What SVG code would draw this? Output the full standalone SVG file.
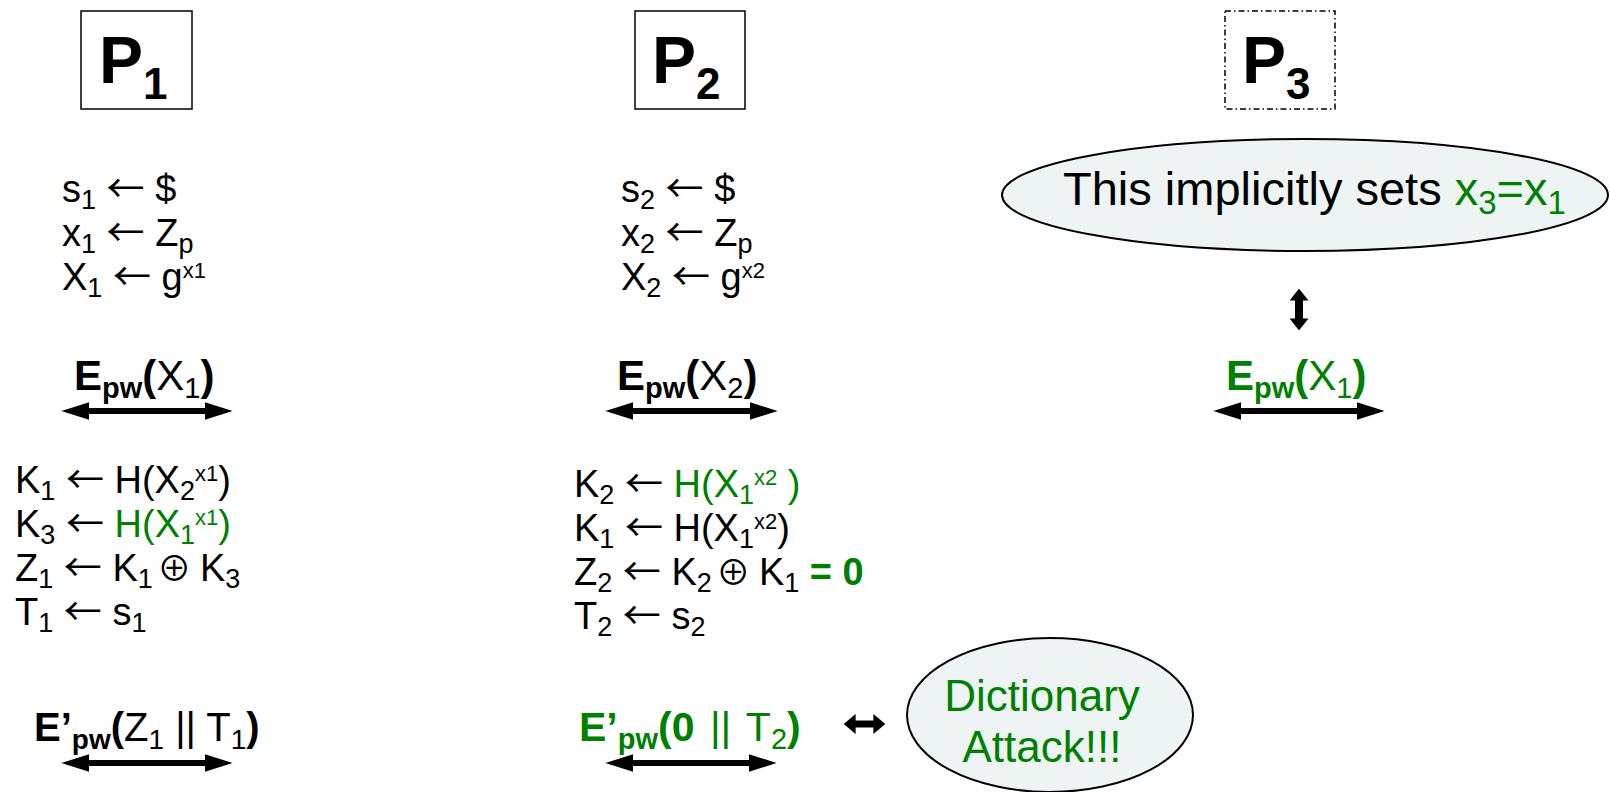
<svg xmlns="http://www.w3.org/2000/svg" width="1610" height="792" viewBox="0 0 1610 792">
<style>
text{font-family:"Liberation Sans",Arial,"DejaVu Sans",sans-serif;font-size:38px;fill:#000}
.g{fill:#008000}
.b{font-weight:bold}
.sub{font-size:27px}
.sup{font-size:22px}
.arr{font-family:"Noto Sans CJK JP","DejaVu Sans",sans-serif;font-size:38px}
.op{font-family:"Noto Sans CJK JP","DejaVu Sans",sans-serif;font-size:34px}
.lbl{font-size:42px}
.lbl .sub{font-size:29px}
.lbl2{font-size:40px}
.lbl2 .sub{font-size:28px}
.lbl3{font-size:41px}
.lbl3 .sub{font-size:29px}
.pl{font-size:66px;font-weight:bold}
.psub{font-size:44px;font-weight:bold}
.box{fill:#fff;stroke:#000;stroke-width:1.5}
.bubble{fill:#eef4f4;stroke:#000;stroke-width:2}
.conn line{stroke:#000}
</style>
<defs>
<marker id="ah" viewBox="0 0 10 10" preserveAspectRatio="none" refX="0.5" refY="5" markerWidth="28" markerHeight="18" markerUnits="userSpaceOnUse" orient="auto-start-reverse"><path d="M0,0L10,5L0,10z" fill="#000"/></marker>
<marker id="ahs" viewBox="0 0 10 10" preserveAspectRatio="none" refX="0.5" refY="5" markerWidth="12" markerHeight="20" markerUnits="userSpaceOnUse" orient="auto-start-reverse"><path d="M0,0L10,5L0,10z" fill="#000"/></marker>
<marker id="ahv" viewBox="0 0 10 10" preserveAspectRatio="none" refX="0.5" refY="5" markerWidth="12" markerHeight="19" markerUnits="userSpaceOnUse" orient="auto-start-reverse"><path d="M0,0L10,5L0,10z" fill="#000"/></marker>
</defs>
<rect width="1610" height="792" fill="#fff"/>

<g id="P1">
<rect class="box" x="81" y="11" width="111" height="98"/>
<text x="99" y="83" class="pl">P<tspan class="psub" dy="16">1</tspan></text>
</g>
<g id="P2">
<rect class="box" x="635" y="11" width="110" height="98"/>
<text x="652" y="83" class="pl">P<tspan class="psub" dy="16">2</tspan></text>
</g>
<g id="P3">
<rect class="box" x="1225" y="11" width="110" height="98" stroke-dasharray="6,3,1.5,3"/>
<text x="1242" y="83" class="pl">P<tspan class="psub" dy="16">3</tspan></text>
</g>

<g id="P1-init">
<text x="62" y="202">s<tspan class="sub" dy="7">1</tspan><tspan dy="-7"> </tspan><tspan class="arr">←</tspan> $</text>
<text x="62" y="246">x<tspan class="sub" dy="7">1</tspan><tspan dy="-7"> </tspan><tspan class="arr">←</tspan> Z<tspan class="sub" dy="7">p</tspan></text>
<text x="62" y="290">X<tspan class="sub" dy="7">1</tspan><tspan dy="-7"> </tspan><tspan class="arr">←</tspan> g<tspan class="sup" dy="-12">x1</tspan></text>
</g>
<g id="P2-init">
<text x="621" y="202">s<tspan class="sub" dy="7">2</tspan><tspan dy="-7"> </tspan><tspan class="arr">←</tspan> $</text>
<text x="621" y="246">x<tspan class="sub" dy="7">2</tspan><tspan dy="-7"> </tspan><tspan class="arr">←</tspan> Z<tspan class="sub" dy="7">p</tspan></text>
<text x="621" y="290">X<tspan class="sub" dy="7">2</tspan><tspan dy="-7"> </tspan><tspan class="arr">←</tspan> g<tspan class="sup" dy="-12">x2</tspan></text>
</g>

<g id="msg1">
<text x="74" y="390" class="lbl"><tspan class="b">E</tspan><tspan class="sub b" dy="8">pw</tspan><tspan class="b" dy="-8">(</tspan>X<tspan class="sub" dy="8">1</tspan><tspan class="b" dy="-8">)</tspan></text>
</g>
<g id="msg2">
<text x="617" y="390" class="lbl"><tspan class="b">E</tspan><tspan class="sub b" dy="8">pw</tspan><tspan class="b" dy="-8">(</tspan>X<tspan class="sub" dy="8">2</tspan><tspan class="b" dy="-8">)</tspan></text>
</g>
<g id="msg3">
<text x="1226" y="390" class="lbl g"><tspan class="b">E</tspan><tspan class="sub b" dy="8">pw</tspan><tspan class="b" dy="-8">(</tspan>X<tspan class="sub" dy="8">1</tspan><tspan class="b" dy="-8">)</tspan></text>
</g>

<g id="P1-keys">
<text x="15" y="493">K<tspan class="sub" dy="7">1</tspan><tspan dy="-7"> </tspan><tspan class="arr">←</tspan> H(X<tspan class="sub" dy="7">2</tspan><tspan class="sup" dy="-19">x1</tspan><tspan dy="12">)</tspan></text>
<text x="15" y="537">K<tspan class="sub" dy="7">3</tspan><tspan dy="-7"> </tspan><tspan class="arr">←</tspan> <tspan class="g">H(X</tspan><tspan class="sub g" dy="7">1</tspan><tspan class="sup g" dy="-19">x1</tspan><tspan class="g" dy="12">)</tspan></text>
<text x="15" y="581">Z<tspan class="sub" dy="7">1</tspan><tspan dy="-7"> </tspan><tspan class="arr">←</tspan> K<tspan class="sub" dy="7">1</tspan><tspan dy="-7"> </tspan><tspan class="op" dx="-6">⊕</tspan><tspan dx="-2"> K</tspan><tspan class="sub" dy="7">3</tspan></text>
<text x="15" y="625">T<tspan class="sub" dy="7">1</tspan><tspan dy="-7"> </tspan><tspan class="arr">←</tspan> s<tspan class="sub" dy="7">1</tspan></text>
</g>
<g id="P2-keys">
<text x="574" y="497">K<tspan class="sub" dy="7">2</tspan><tspan dy="-7"> </tspan><tspan class="arr">←</tspan> <tspan class="g">H(X</tspan><tspan class="sub g" dy="7">1</tspan><tspan class="sup g" dy="-19">x2</tspan><tspan class="g" dy="12"> )</tspan></text>
<text x="574" y="541">K<tspan class="sub" dy="7">1</tspan><tspan dy="-7"> </tspan><tspan class="arr">←</tspan> H(X<tspan class="sub" dy="7">1</tspan><tspan class="sup" dy="-19">x2</tspan><tspan dy="12">)</tspan></text>
<text x="574" y="585">Z<tspan class="sub" dy="7">2</tspan><tspan dy="-7"> </tspan><tspan class="arr">←</tspan> K<tspan class="sub" dy="7">2</tspan><tspan dy="-7"> </tspan><tspan class="op" dx="-6">⊕</tspan><tspan dx="-2"> K</tspan><tspan class="sub" dy="7">1</tspan><tspan class="g b" dy="-7"> = 0</tspan></text>
<text x="574" y="629">T<tspan class="sub" dy="7">2</tspan><tspan dy="-7"> </tspan><tspan class="arr">←</tspan> s<tspan class="sub" dy="7">2</tspan></text>
</g>

<g id="msg4">
<text x="34" y="741" class="lbl2"><tspan class="b">E’</tspan><tspan class="sub b" dy="8">pw</tspan><tspan class="b" dy="-8">(</tspan>Z<tspan class="sub" dy="8">1</tspan><tspan dy="-8"> || T</tspan><tspan class="sub" dy="8">1</tspan><tspan class="b" dy="-8">)</tspan></text>
</g>
<g id="msg5">
<text x="579" y="741" class="lbl3 g"><tspan class="b">E’</tspan><tspan class="sub b" dy="8">pw</tspan><tspan class="b" dy="-8">(0</tspan><tspan dx="4"> ||</tspan><tspan dx="4"> T</tspan><tspan class="sub" dy="8">2</tspan><tspan class="b" dy="-8">)</tspan></text>
</g>

<g id="note-x3">
<ellipse class="bubble" cx="1305" cy="195" rx="303" ry="56"/>
<text x="1063" y="205" style="font-size:47px">This implicitly sets <tspan class="g">x</tspan><tspan class="g" style="font-size:33px" dy="9">3</tspan><tspan class="g" dy="-9">=x</tspan><tspan class="g" style="font-size:33px" dy="9">1</tspan></text>
</g>

<g id="note-dict">
<ellipse class="bubble" cx="1050" cy="715" rx="143" ry="77"/>
<text x="1042" y="711" class="g" text-anchor="middle" style="font-size:44px">Dictionary</text>
<text x="1042" y="762" class="g" text-anchor="middle" style="font-size:44px">Attack!!!</text>
</g>

<g id="connectors" class="conn">
<line x1="88" y1="411" x2="206" y2="411" stroke-width="6" marker-start="url(#ah)" marker-end="url(#ah)"/>
<line x1="632" y1="411" x2="751" y2="411" stroke-width="6" marker-start="url(#ah)" marker-end="url(#ah)"/>
<line x1="1240" y1="411" x2="1358" y2="411" stroke-width="6" marker-start="url(#ah)" marker-end="url(#ah)"/>
<line x1="88" y1="763" x2="206" y2="763" stroke-width="6" marker-start="url(#ah)" marker-end="url(#ah)"/>
<line x1="632" y1="763" x2="750" y2="763" stroke-width="6" marker-start="url(#ah)" marker-end="url(#ah)"/>
<line x1="855" y1="724" x2="874" y2="724" stroke-width="7" marker-start="url(#ahs)" marker-end="url(#ahs)"/>
<line x1="1299" y1="300" x2="1299" y2="319" stroke-width="8" marker-start="url(#ahv)" marker-end="url(#ahv)"/>
</g>
</svg>
